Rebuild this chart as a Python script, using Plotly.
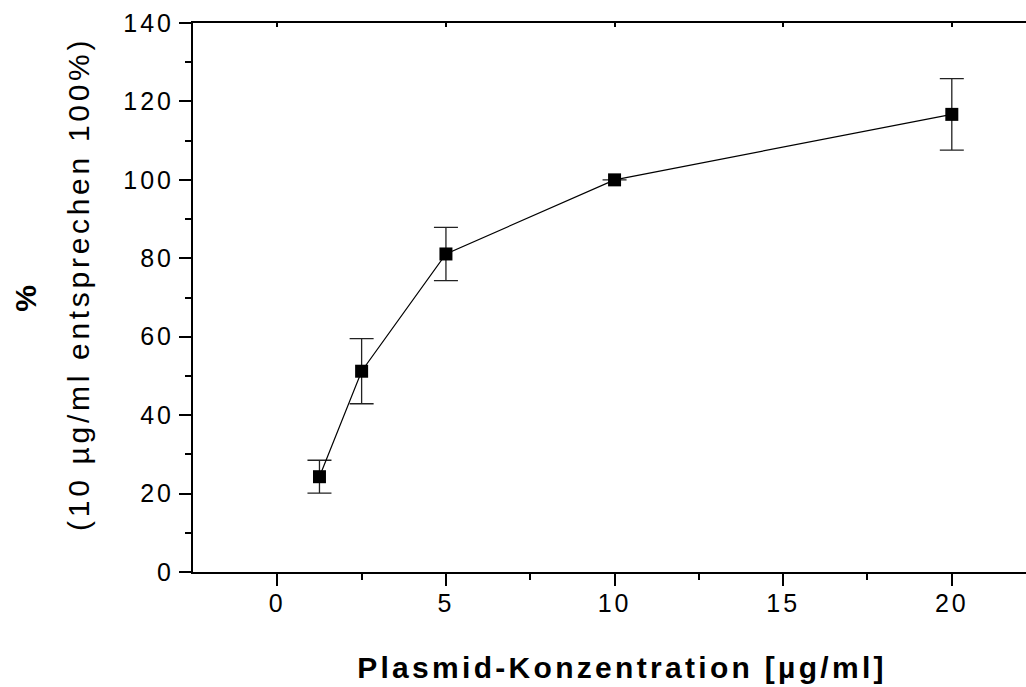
import plotly.graph_objects as go

conc = [1.25, 2.5, 5, 10, 20]
percent = [24.3, 51.2, 81.1, 100.0, 116.7]
err = [4.2, 8.3, 6.8, 0.0, 9.1]

x_ticks = [0, 5, 10, 15, 20]
y_ticks = [0, 20, 40, 60, 80, 100, 120, 140]

FONT = "Liberation Sans, Arial, sans-serif"
L, R, T, B = 193, 0, 23, 115
W, H = 1026, 687
PW = W - L - R

fig = go.Figure()
fig.add_trace(go.Scatter(
    x=conc, y=percent, mode="lines+markers",
    line=dict(color="black", width=1.2),
    marker=dict(symbol="square", size=13, color="black"),
    error_y=dict(type="data", array=err, visible=True, color="#222222",
                 thickness=1.3, width=12),
    showlegend=False,
))
# invisible trace for top axis
fig.add_trace(go.Scatter(x=conc, y=percent, xaxis="x2", mode="markers",
                         marker=dict(opacity=0), showlegend=False, hoverinfo="skip"))

axis_common = dict(showgrid=False, zeroline=False, showline=True, linecolor="black",
                   linewidth=2, ticks="outside", tickwidth=2, ticklen=12,
                   tickcolor="black", tickfont=dict(family=FONT, size=25, color="black"))

fig.update_layout(
    width=W, height=H,
    margin=dict(l=L, r=R, t=T, b=B, pad=0),
    paper_bgcolor="white", plot_bgcolor="white",
    xaxis=dict(range=[-2.5, 22.2], tickvals=x_ticks,
               minor=dict(tickvals=[2.5, 7.5, 12.5, 17.5], ticklen=6, tickwidth=2,
                          tickcolor="black", ticks="outside"),
               ticklabelstandoff=-4,
               **axis_common),
    xaxis2=dict(range=[-2.5, 22.2], overlaying="x", side="top", tickvals=x_ticks,
                showticklabels=False, ticks="inside", ticklen=4, tickwidth=2,
                tickcolor="black", showline=True, linewidth=2, linecolor="black",
                showgrid=False, zeroline=False),
    yaxis=dict(range=[0, 140], tickvals=y_ticks,
               minor=dict(tickvals=[10, 30, 50, 70, 90, 110, 130], ticklen=6, tickwidth=2,
                          tickcolor="black", ticks="outside"),
               ticklabelstandoff=0,
               **axis_common),
)

def px_x(p):
    return (p - L) / PW

def px_y(p):
    return (H - B - p) / (H - T - B)

fig.add_annotation(text="<b>%</b>", xref="paper", yref="paper",
                   x=px_x(25), y=px_y(297), textangle=-90, showarrow=False,
                   xanchor="center", yanchor="middle",
                   font=dict(family=FONT, size=30, color="black"))
fig.add_annotation(text="(10 µg/ml entsprechen 100%)", xref="paper", yref="paper",
                   x=px_x(78), y=px_y(284), textangle=-90, showarrow=False,
                   xanchor="center", yanchor="middle",
                   font=dict(family=FONT, size=30, color="black"))
fig.add_annotation(text="<b>Plasmid-Konzentration [µg/ml]</b>", xref="paper", yref="paper",
                   x=px_x(622), y=px_y(667), showarrow=False,
                   xanchor="center", yanchor="middle",
                   font=dict(family=FONT, size=30, color="black"))

post = """
var gd = document.getElementById('{plot_id}');
function applySpacing() {
  gd.querySelectorAll('.xtick text, .ytick text').forEach(function (t) {
    t.style.letterSpacing = '3px';
  });
  var anns = gd.querySelectorAll('.annotation-text');
  anns.forEach(function (t) {
    var s = t.textContent || '';
    t.style.letterSpacing = (s.indexOf('entsprechen') >= 0) ? '3.7px' : '3.3px';
  });
}
applySpacing();
if (gd.on) { gd.on('plotly_afterplot', applySpacing); }
"""

fig.write_html("out.html", post_script=post)
